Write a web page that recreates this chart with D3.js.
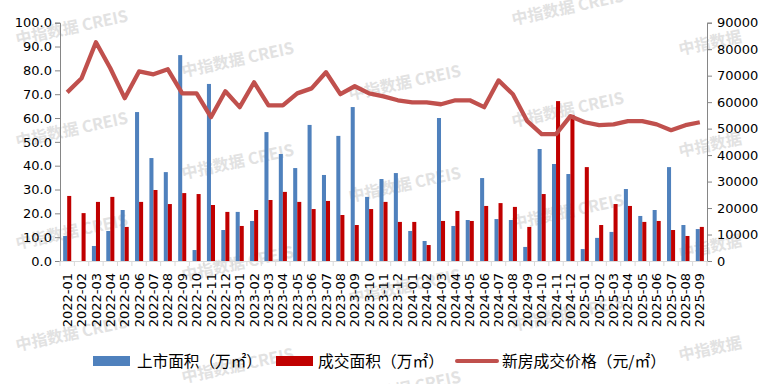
<!DOCTYPE html>
<html>
<head>
<meta charset="utf-8">
<script src="https://cdn.jsdelivr.net/npm/d3@7"></script>
<style>
  body { margin: 0; background: #fff; }
  svg { display: block; }
</style>
</head>
<body>
<div id="chart"></div>
<script>
// months
var months = ["2022-01","2022-02","2022-03","2022-04","2022-05","2022-06","2022-07","2022-08","2022-09","2022-10","2022-11","2022-12",
  "2023-01","2023-02","2023-03","2023-04","2023-05","2023-06","2023-07","2023-08","2023-09","2023-10","2023-11","2023-12",
  "2024-01","2024-02","2024-03","2024-04","2024-05","2024-06","2024-07","2024-08","2024-09","2024-10","2024-11","2024-12",
  "2025-01","2025-02","2025-03","2025-04","2025-05","2025-06","2025-07","2025-08","2025-09"];

// 上市面积 (万㎡)
var supply = [10.5,0,6.3,12.6,21.4,62.5,43.2,37.3,86.4,4.6,74.3,13.0,
  20.6,16.8,54.1,44.9,39.0,57.1,36.1,52.5,64.6,26.9,34.4,36.9,
  12.6,8.4,60.0,14.7,17.2,34.8,17.6,17.2,5.9,47.0,40.7,36.5,
  5.0,9.7,12.2,30.2,18.9,21.4,39.4,15.1,13.4];

// 成交面积 (万㎡)
var deals = [27.3,20.1,24.8,26.9,14.3,24.8,29.8,23.9,28.5,28.1,23.5,20.6,
  14.7,21.4,25.6,29.0,24.8,21.8,25.2,19.3,15.1,21.8,24.8,16.4,
  16.4,6.7,16.8,21.0,16.8,23.1,24.3,22.7,14.3,28.1,67.1,61.3,
  39.4,15.1,23.9,23.1,16.4,16.8,13.0,10.5,14.3];

// 新房成交价格 (元/㎡)
var price = [63700,69000,82600,72800,61500,71600,70500,72400,63300,63300,54300,64100,
  58100,67500,58800,58800,63300,65200,71300,63000,66000,63300,62200,60700,
  59900,59900,59200,60700,60700,58100,68200,63000,52800,47900,47900,54700,
  52400,51300,51600,52800,52800,51600,49400,51300,52400];

var leftTicks = [0,10,20,30,40,50,60,70,80,90,100];
var rightTicks = [0,10000,20000,30000,40000,50000,60000,70000,80000,90000];
var legendNames = ["上市面积（万㎡）","成交面积（万㎡）","新房成交价格（元/㎡）"];

var W = 771, H = 384;
var pl = 60, pr = 707, pt = 22.7, pb = 261;

var blue = "#4F81BD", red = "#C00000", lineCol = "#C0504D";

var svg = d3.select("#chart").append("svg")
  .attr("width", W)
  .attr("height", H);

// watermark
var wmCols = [17, 183, 350, 513, 680];
var wmBase = [45, 77, 100, 25, 55];
wmCols.forEach(function(wx, c) {
  for (var r = -1; r < 5; r++) {
    var wy = wmBase[c] + r * 102;
    if (wy < 0 || wy > 420) continue;
    svg.append("text")
      .attr("transform", "translate(" + wx + "," + wy + ") rotate(-12)")
      .attr("font-family", "Noto Sans CJK SC")
      .attr("font-weight", "bold")
      .attr("font-size", 16)
      .attr("fill", "#e2e2e2")
      .text(c == 4 ? "中指数据" : "中指数据 CREIS");
  }
});

// scales
var x = d3.scaleBand()
  .domain(months)
  .range([pl, pr]);

var inner = d3.scaleBand()
  .domain(["s", "d"])
  .range([0, x.bandwidth()])
  .paddingInner(0)
  .paddingOuter(0.78);

var y = d3.scaleLinear().domain([0, 100]).range([pb, pt]);
var y2 = d3.scaleLinear().domain([0, 90000]).range([pb, pt]);

// axes
var axisCol = "#868686";

var yAxis = svg.append("g")
  .attr("transform", "translate(" + pl + ",0)")
  .call(d3.axisLeft(y).tickValues(leftTicks).tickFormat(d3.format(".1f")).tickSize(5).tickPadding(3));

var yAxis2 = svg.append("g")
  .attr("transform", "translate(" + pr + ",0)")
  .call(d3.axisRight(y2).tickValues(rightTicks).tickFormat(d3.format("d")).tickSize(5).tickPadding(5));

[yAxis, yAxis2].forEach(function(g) {
  g.select(".domain").attr("stroke", axisCol);
  g.selectAll(".tick line").attr("stroke", axisCol);
  g.selectAll("text")
    .attr("font-family", "DejaVu Sans")
    .attr("font-size", 13)
    .attr("fill", "#000");
});

// bars
svg.selectAll(".bar-s")
  .data(supply)
  .enter().append("rect")
  .attr("class", "bar-s")
  .attr("fill", blue)
  .attr("x", function(d, i) { return x(months[i]) + inner("s"); })
  .attr("width", inner.bandwidth())
  .attr("y", function(d) { return y(d); })
  .attr("height", function(d) { return pb - y(d); });

svg.selectAll(".bar-d")
  .data(deals)
  .enter().append("rect")
  .attr("class", "bar-d")
  .attr("fill", red)
  .attr("x", function(d, i) { return x(months[i]) + inner("d"); })
  .attr("width", inner.bandwidth())
  .attr("y", function(d) { return y(d); })
  .attr("height", function(d) { return pb - y(d); });

// x axis
var xAxis = svg.append("g")
  .attr("transform", "translate(0," + pb + ")")
  .call(d3.axisBottom(x).tickSize(0).tickPadding(0));
xAxis.select(".domain").attr("stroke", "#d9d9d9");
xAxis.selectAll(".tick text")
  .attr("font-family", "DejaVu Sans")
  .attr("font-size", 13)
  .attr("fill", "#000")
  .attr("text-anchor", "end")
  .attr("dy", "0.35em")
  .attr("transform", "translate(0,12) rotate(-90)")
  .attr("x", 0)
  .attr("y", 0);

// tick marks at band edges
svg.append("g").selectAll("line")
  .data(months.concat(["end"]))
  .enter().append("line")
  .attr("x1", function(d, i) { return pl + i * x.step(); })
  .attr("x2", function(d, i) { return pl + i * x.step(); })
  .attr("y1", pb)
  .attr("y2", pb + 5)
  .attr("stroke", "#d9d9d9");

// price line
var line = d3.line()
  .x(function(d, i) { return x(months[i]) + x.bandwidth() / 2; })
  .y(function(d) { return y2(d); });

svg.append("path")
  .datum(price)
  .attr("fill", "none")
  .attr("stroke", lineCol)
  .attr("stroke-width", 4.3)
  .attr("stroke-linejoin", "round")
  .attr("d", line);

// legend
var leg = svg.append("g").attr("font-family", "Noto Sans CJK SC").attr("font-size", 15.5);
leg.append("rect").attr("x", 93).attr("y", 356).attr("width", 37).attr("height", 10).attr("fill", blue);
leg.append("text").attr("x", 137).attr("y", 366.5)
  .attr("textLength", 125).attr("lengthAdjust", "spacingAndGlyphs").text(legendNames[0]);
leg.append("rect").attr("x", 276).attr("y", 356).attr("width", 37).attr("height", 10).attr("fill", red);
leg.append("text").attr("x", 318).attr("y", 366.5)
  .attr("textLength", 126).attr("lengthAdjust", "spacingAndGlyphs").text(legendNames[1]);
leg.append("line").attr("x1", 457).attr("x2", 497).attr("y1", 361).attr("y2", 361)
  .attr("stroke", lineCol).attr("stroke-width", 4).attr("stroke-linecap", "round");
leg.append("text").attr("x", 502).attr("y", 366.5)
  .attr("textLength", 164).attr("lengthAdjust", "spacingAndGlyphs").text(legendNames[2]);
</script>
</body>
</html>
